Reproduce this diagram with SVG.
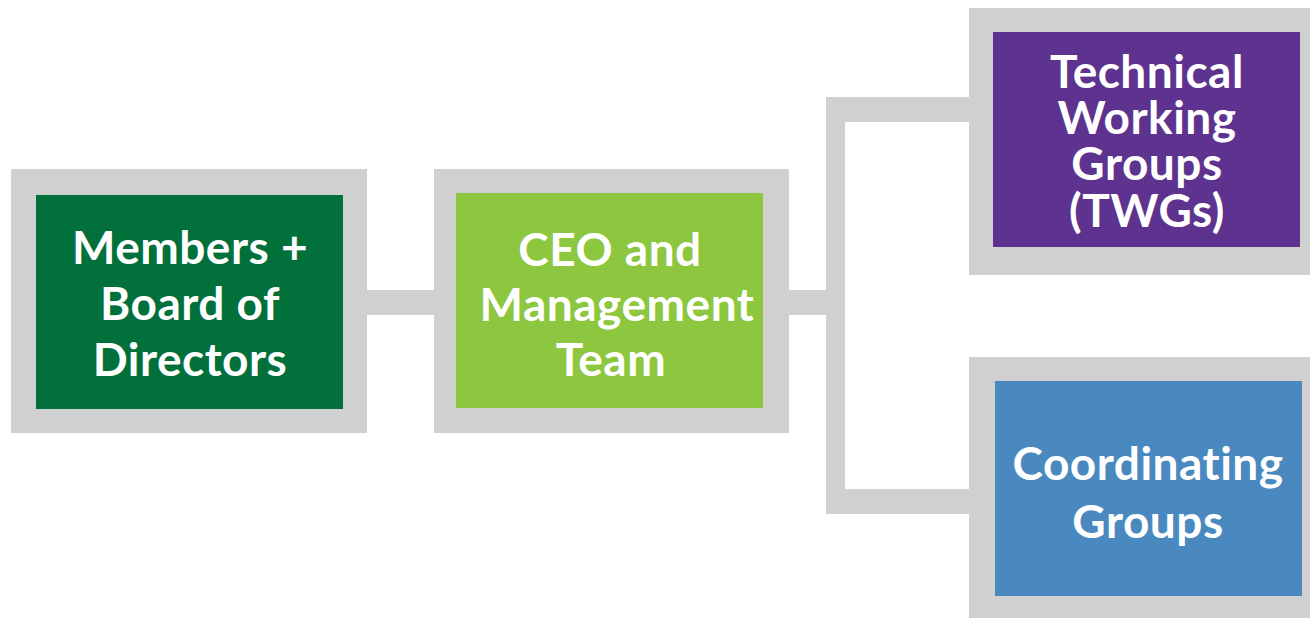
<svg xmlns="http://www.w3.org/2000/svg" width="1310" height="618" viewBox="0 0 1310 618">
<style>
.frame{fill:#d0d0d0}
.conn{fill:#d0d0d0}
.label{font-family:Lato,"Liberation Sans",sans-serif;font-weight:bold;font-size:46px;letter-spacing:0.5px;fill:#ffffff;text-anchor:middle}
</style>
<rect x="0" y="0" width="1310" height="618" fill="#ffffff"/>
<g id="connectors">
<path class="conn" d="M367,290 H434 V315 H367 Z"/>
<path class="conn" d="M789,290 H826 V97 H969 V122 H845 V489 H969 V514 H826 V315 H789 Z"/>
</g>
<g id="members">
<rect class="frame" x="11" y="169" width="356" height="264"/>
<rect x="36" y="195" width="307" height="214" fill="#02703b"/>
<text class="label"><tspan x="190" y="264">Members +</tspan><tspan x="190" y="320">Board of</tspan><tspan x="190" y="376">Directors</tspan></text>
</g>
<g id="ceo">
<rect class="frame" x="434" y="169" width="355" height="264"/>
<rect x="456" y="193" width="307" height="215" fill="#8dc63f"/>
<text class="label"><tspan x="610" y="266">CEO and</tspan><tspan x="617" y="321">Management</tspan><tspan x="611" y="376">Team</tspan></text>
</g>
<g id="twg">
<rect class="frame" x="969" y="8" width="350" height="267"/>
<rect x="993" y="32" width="307" height="215" fill="#5e338f"/>
<text class="label"><tspan x="1147" y="88">Technical</tspan><tspan x="1147" y="134">Working</tspan><tspan x="1147" y="180">Groups</tspan><tspan x="1147" y="227">(TWGs)</tspan></text>
</g>
<g id="coordinating">
<rect class="frame" x="969" y="357" width="350" height="270"/>
<rect x="995" y="381" width="307" height="215" fill="#4a89bf"/>
<text class="label"><tspan x="1148" y="480">Coordinating</tspan><tspan x="1148" y="538">Groups</tspan></text>
</g>
</svg>
